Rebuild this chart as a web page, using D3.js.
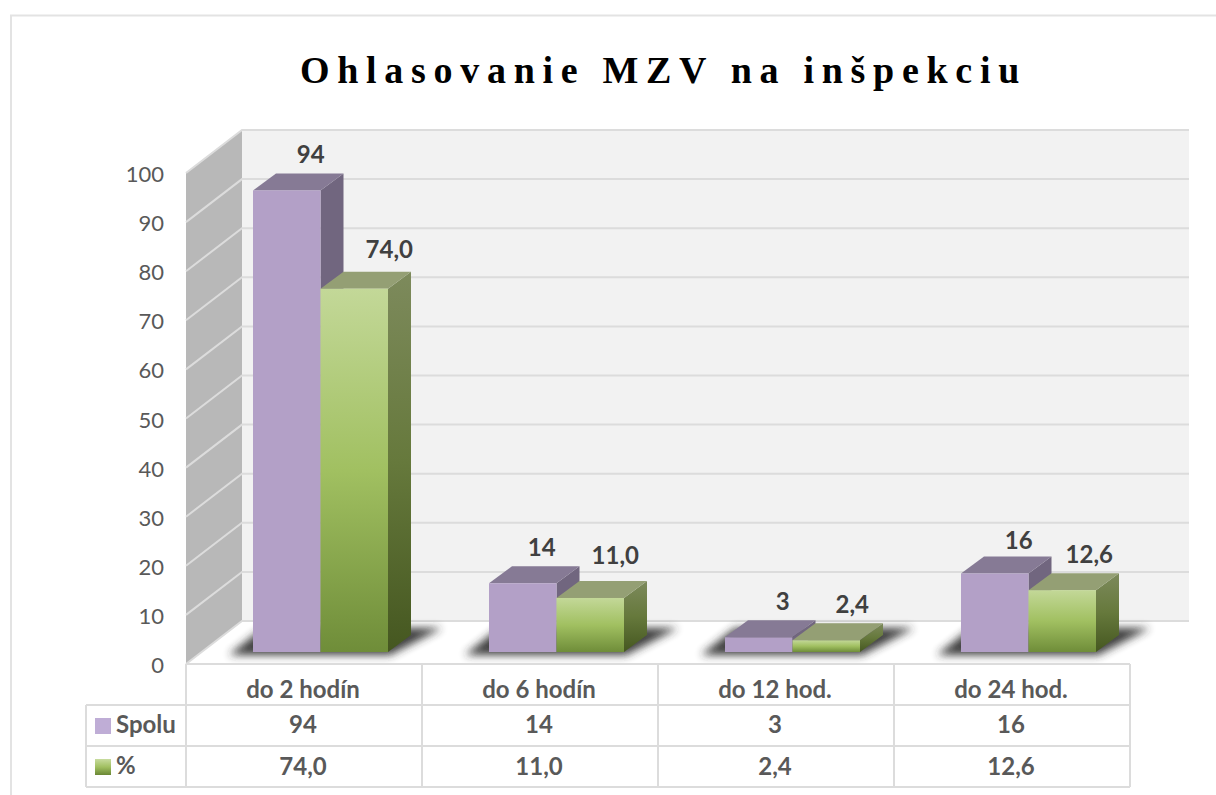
<!DOCTYPE html>
<html>
<head>
<meta charset="utf-8">
<script src="https://cdn.jsdelivr.net/npm/d3@7"></script>
<style>
  html, body { margin: 0; padding: 0; background: #fff; overflow: hidden; }
  text { font-family: Lato, "Open Sans", sans-serif; }
</style>
</head>
<body>
<div id="chart"></div>
<script>
const categories = ['do 2 hodín', 'do 6 hodín', 'do 12 hod.', 'do 24 hod.'];
const seriesNames = ['Spolu', '%'];
const spolu = [94, 14, 3, 16];
const percent = [74.0, 11.0, 2.4, 12.6];
const yTicks = [0, 10, 20, 30, 40, 50, 60, 70, 80, 90, 100];

const width = 1216;
const height = 795;
const commaFormat = d3.formatLocale({ decimal: ',', thousands: ' ', grouping: [3], currency: ['', ''] }).format('.1f');

// Front plane of the plot and the depth of the 3D box
const wallDx = 56;
const wallDy = -43;
const barDx = 23;
const barDy = -17;
const barLift = 12;

const x = d3.scaleBand().domain(categories).range([186, 1130]);
const xSeries = d3.scaleBand().domain(seriesNames).range([67, 202]);
const y = d3.scaleLinear().domain([0, 100]).range([664, 173]);

const svg = d3.select('#chart')
    .append('svg')
    .attr('width', width)
    .attr('height', height);

const defs = svg.append('defs');

function addGradient(id, stops)
{
    const g = defs.append('linearGradient')
        .attr('id', id)
        .attr('x1', 0).attr('y1', 0)
        .attr('x2', 0).attr('y2', 1);
    stops.forEach(s => g.append('stop').attr('offset', s[0]).attr('stop-color', s[1]));
}

addGradient('greenFront', [[0, '#c3d898'], [0.5, '#a1c061'], [1, '#6f8d39']]);
addGradient('greenSide', [[0, '#7d8a5c'], [0.5, '#66793c'], [1, '#455720']]);
addGradient('greenSwatch', [[0, '#c8dc9f'], [0.5, '#a1c061'], [1, '#6a8735']]);

defs.append('filter')
    .attr('id', 'shadowBlur')
    .attr('x', '-20%').attr('y', '-50%')
    .attr('width', '140%').attr('height', '200%')
    .append('feGaussianBlur')
    .attr('stdDeviation', 4);

// Outer frame
svg.append('path')
    .attr('d', `M11,${height}V15.5H${width}`)
    .attr('fill', 'none')
    .attr('stroke', '#e3e3e3')
    .attr('stroke-width', 2);

// Title
svg.append('text')
    .attr('x', 663.5)
    .attr('y', 83)
    .attr('text-anchor', 'middle')
    .style('font-family', '"Liberation Serif", serif')
    .style('font-weight', 'bold')
    .style('font-size', '38px')
    .style('letter-spacing', '7.7px')
    .attr('fill', '#000')
    .text('Ohlasovanie MZV na inšpekciu');

// Walls
const poly = pts => 'M' + pts.map(p => p.join(',')).join('L') + 'Z';
const wallLeft = x.range()[0];
const wallRight = 1189;

svg.append('rect')
    .attr('x', wallLeft + wallDx)
    .attr('y', y(100) + wallDy)
    .attr('width', wallRight - wallLeft - wallDx)
    .attr('height', y(0) - y(100))
    .attr('fill', '#f2f2f2');

svg.append('path')
    .attr('d', poly([
        [wallLeft, y(0)], [wallLeft, y(100)],
        [wallLeft + wallDx, y(100) + wallDy], [wallLeft + wallDx, y(0) + wallDy]
    ]))
    .attr('fill', '#b8b8b8');

// Gridlines on both walls
svg.append('g')
    .selectAll('path')
    .data(yTicks)
    .enter()
    .append('path')
    .attr('d', d => `M${wallLeft},${y(d)}L${wallLeft + wallDx},${y(d) + wallDy}H${wallRight}`)
    .attr('fill', 'none')
    .attr('stroke', '#dcdcdc')
    .attr('stroke-width', 2);

// Axis tick labels
const yAxis = svg.append('g')
    .attr('transform', `translate(${wallLeft},1.5)`)
    .call(d3.axisLeft(y).tickValues(yTicks).tickSize(0).tickPadding(22).tickFormat(d3.format('d')));
yAxis.select('.domain').remove();
yAxis.selectAll('text')
    .style('font-family', 'Lato, sans-serif')
    .style('font-size', '22px')
    .attr('fill', '#595959');

// Shadows below each group
const shadows = svg.append('g');
categories.forEach(c => {
    const left = x(c) + xSeries.range()[0];
    const right = x(c) + xSeries.range()[1];
    const base = y(0) - barLift;
    shadows.append('path')
        .attr('d', poly([
            [left - 24, base + 3], [right + 2, base + 3],
            [right + 54, base - 24], [left + 10, base - 24]
        ]))
        .attr('fill', '#2b2b2b')
        .attr('opacity', 0.9)
        .attr('filter', 'url(#shadowBlur)');
});

// Bars
function drawBar(g, bx, w, top, base, colors)
{
    g.append('path')
        .attr('d', poly([[bx + w, top], [bx + w + barDx, top + barDy], [bx + w + barDx, base + barDy], [bx + w, base]]))
        .attr('fill', colors.side);
    g.append('path')
        .attr('d', poly([[bx, top], [bx + barDx, top + barDy], [bx + w + barDx, top + barDy], [bx + w, top]]))
        .attr('fill', colors.top);
    g.append('rect')
        .attr('x', bx)
        .attr('y', top)
        .attr('width', w)
        .attr('height', base - top)
        .attr('fill', colors.front);
}

// The reference places its data labels by hand, these are the small offsets
const seriesData = [
    { name: seriesNames[0], values: spolu, colors: { front: '#b3a0c7', top: '#867a95', side: '#71667f' }, text: d3.format('d'),
      labelDx: [24, 19, 24, 24], labelDy: [0, 0, 0, 3] },
    { name: seriesNames[1], values: percent, colors: { front: 'url(#greenFront)', top: '#949f74', side: 'url(#greenSide)' }, text: commaFormat,
      labelDx: [35, 25, 26, 27], labelDy: [-4, -7, 0, 0] }
];

seriesData.forEach(s => {
    const g = svg.append('g');
    s.values.forEach((v, i) => {
        const bx = x(categories[i]) + xSeries(s.name);
        const w = xSeries.bandwidth();
        const top = y(v) - barLift;
        drawBar(g, bx, w, top, y(0) - barLift, s.colors);
    });
});

// Data labels go on top of every bar
seriesData.forEach(s => {
    svg.append('g')
        .selectAll('text')
        .data(s.values)
        .enter()
        .append('text')
        .attr('x', (d, i) => x(categories[i]) + xSeries(s.name) + xSeries.bandwidth() / 2 + s.labelDx[i])
        .attr('y', (d, i) => y(d) - barLift + barDy - 10 + s.labelDy[i])
        .attr('text-anchor', 'middle')
        .style('font-size', '24px')
        .style('font-weight', 'bold')
        .attr('fill', '#404040')
        .text(d => s.text(d));
});

// Data table
const rowY = [y(0), 705, 746, 787];
const tableLeft = 86;
const tableRight = x.range()[1];
const tableLines = svg.append('g')
    .attr('fill', 'none')
    .attr('stroke', '#dcdcdc')
    .attr('stroke-width', 2);

tableLines.append('path').attr('d', `M${wallLeft},${rowY[0]}H${tableRight}`);
rowY.slice(1).forEach(r => tableLines.append('path').attr('d', `M${tableLeft},${r}H${tableRight}`));
tableLines.append('path').attr('d', `M${tableLeft},${rowY[1]}V${rowY[3]}`);
categories.forEach(c => tableLines.append('path').attr('d', `M${x(c)},${rowY[0]}V${rowY[3]}`));
tableLines.append('path').attr('d', `M${tableRight},${rowY[0]}V${rowY[3]}`);

function tableRow(labels, baseline)
{
    svg.append('g')
        .selectAll('text')
        .data(labels)
        .enter()
        .append('text')
        .attr('x', (d, i) => x(categories[i]) + x.bandwidth() / 2 - 1)
        .attr('y', baseline)
        .attr('text-anchor', 'middle')
        .style('font-size', '24px')
        .style('font-weight', 'bold')
        .attr('fill', '#595959')
        .text(d => d);
}

tableRow(categories, 698);
tableRow(spolu.map(d3.format('d')), 733);
tableRow(percent.map(commaFormat), 775);

// Legend keys in the table
seriesData.forEach((s, i) => {
    svg.append('rect')
        .attr('x', 95)
        .attr('y', rowY[i + 1] + 13)
        .attr('width', 16)
        .attr('height', 16)
        .attr('fill', i === 0 ? '#bfadd6' : 'url(#greenSwatch)');
    svg.append('text')
        .attr('x', 116)
        .attr('y', rowY[i + 1] + 28)
        .style('font-size', '24px')
        .style('font-weight', 'bold')
        .attr('fill', '#595959')
        .text(s.name);
});
</script>
</body>
</html>
